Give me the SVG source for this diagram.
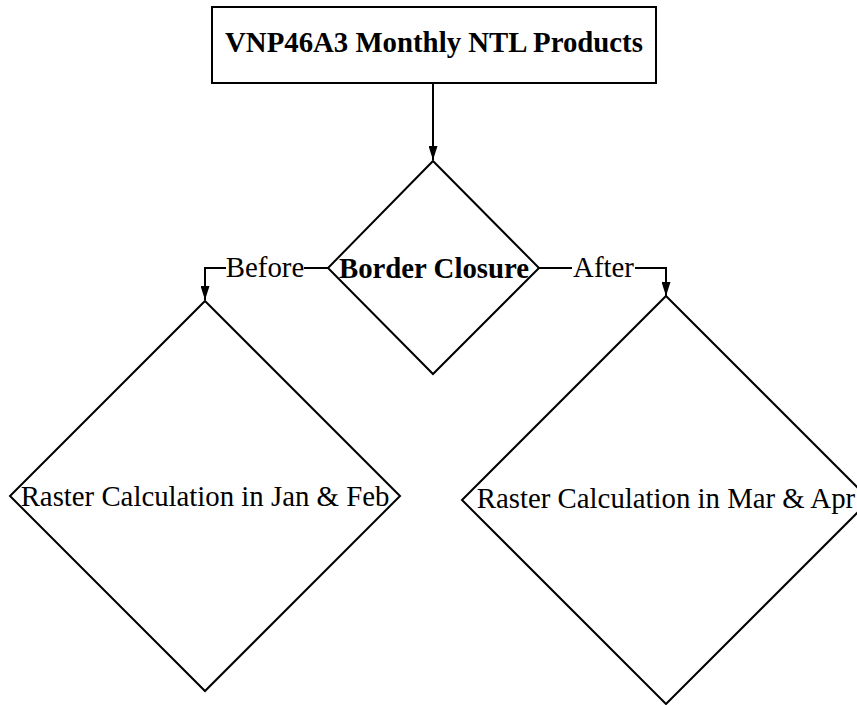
<svg xmlns="http://www.w3.org/2000/svg" width="857" height="705" viewBox="0 0 857 705">
<style>
.shape{fill:#fff;stroke:#000;stroke-width:2}
.edge{fill:none;stroke:#000;stroke-width:2}
.lbl{font-family:"Liberation Serif","Times New Roman",serif;font-size:28.8px;fill:#000;text-anchor:middle}
.b{font-weight:bold}
.bg{fill:#fff}
</style>
<defs>
<marker id="arr" viewBox="0 0 14 9" refX="14" refY="4.5" markerWidth="14" markerHeight="9" markerUnits="userSpaceOnUse" orient="auto">
<path d="M0,0 L14,4.5 L0,9 z" fill="#000"/>
</marker>
</defs>
<rect width="857" height="705" fill="#fff"/>
<g id="edges">
<path class="edge" d="M433,83 V160" marker-end="url(#arr)"/>
<path class="edge" d="M328,268 H205 V300" marker-end="url(#arr)"/>
<path class="edge" d="M539,268 H666 V296" marker-end="url(#arr)"/>
<rect class="bg" x="226" y="252" width="78" height="30"/>
<text class="lbl" x="265" y="277">Before</text>
<rect class="bg" x="572" y="252" width="63" height="30"/>
<text class="lbl" x="603.5" y="277">After</text>
</g>
<g id="n1">
<rect class="shape" x="212" y="7" width="444" height="76"/>
<text class="lbl b" x="434" y="52">VNP46A3 Monthly NTL Products</text>
</g>
<g id="n2">
<polygon class="shape" points="433,161 539,268 433,374 328,268"/>
<text class="lbl b" x="434" y="278">Border Closure</text>
</g>
<g id="n3">
<polygon class="shape" points="205,301 400,496 205,691 10,496"/>
<text class="lbl" x="205" y="506">Raster Calculation in Jan &amp; Feb</text>
</g>
<g id="n4">
<polygon class="shape" points="666,296 870,500 666,704 462,500"/>
<text class="lbl" x="666" y="508">Raster Calculation in Mar &amp; Apr</text>
</g>
</svg>
